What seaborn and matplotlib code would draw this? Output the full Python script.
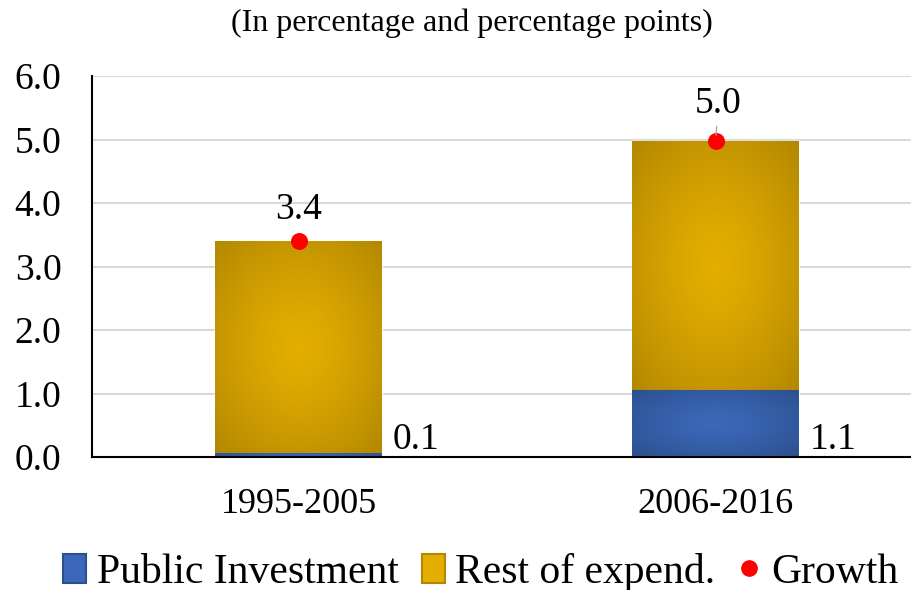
import numpy as np
import pandas as pd
import matplotlib
matplotlib.use("Agg")
import matplotlib.pyplot as plt
import seaborn as sns
from matplotlib.patches import Patch
from matplotlib.lines import Line2D
from matplotlib.colors import LinearSegmentedColormap

# ---- data ----
periods = ["1995-2005", "2006-2016"]
public_investment = [0.06, 1.06]
rest_of_expend = [3.34, 3.92]
growth = [3.40, 4.98]
title = "(In percentage and percentage points)"
yticks = [0, 1, 2, 3, 4, 5, 6]

sns.set_theme(style="white")
plt.rcParams['font.family'] = ['Liberation Serif', 'DejaVu Serif']
plt.rcParams['text.color'] = 'black'

BLUE_C, BLUE_E = "#3B68B9", "#2C508D"
GOLD_C, GOLD_E = "#E4AE00", "#B38800"

fig = plt.figure(figsize=(9.11, 5.90), dpi=100)
ax = fig.add_axes([92 / 911, 133 / 590, 819 / 911, 381 / 590])

df = pd.DataFrame({"period": periods, "pub": public_investment,
                   "rest": rest_of_expend, "growth": growth})

sns.barplot(data=df, x="period", y="pub", color=BLUE_E, width=0.4,
            saturation=1, ax=ax, zorder=3)
sns.barplot(data=df, x="period", y="rest", bottom=df["pub"].values,
            color=GOLD_E, width=0.4, saturation=1, ax=ax, zorder=3)

# radial gradient fills clipped to each bar
n_pub = len(periods)
for k, patch in enumerate(ax.patches):
    x0, y0 = patch.get_x(), patch.get_y()
    w, h = patch.get_width(), patch.get_height()
    if h <= 0:
        continue
    c, e = (BLUE_C, BLUE_E) if k < n_pub else (GOLD_C, GOLD_E)
    cmap = LinearSegmentedColormap.from_list("g", [c, e])
    gx, gy = np.meshgrid(np.linspace(-1, 1, 200), np.linspace(-1, 1, 200))
    r = (np.sqrt(gx ** 2 + gy ** 2) / np.sqrt(2)) ** 1.3
    im = ax.imshow(r, cmap=cmap, vmin=0, vmax=1, extent=[x0, x0 + w, y0, y0 + h],
                   aspect="auto", origin="lower", zorder=3.5, interpolation="bilinear")
    im.set_clip_path(patch)

# growth dots
xs = np.arange(len(periods))
ax.scatter(xs, growth, s=150, color="#FF0000", zorder=6, linewidths=0)

# growth labels
ax.annotate(f"{growth[0]:.1f}", xy=(xs[0], growth[0]), xytext=(xs[0], growth[0] + 0.49),
            ha="center", va="center", fontsize=27, color="black", zorder=7)
ax.annotate(f"{growth[1]:.1f}", xy=(xs[1], growth[1]), xytext=(xs[1] + 0.005, growth[1] + 0.59),
            ha="center", va="center", fontsize=27, color="black", zorder=7,
            arrowprops=dict(arrowstyle="-", color="#A6A6A6", lw=1, shrinkA=2, shrinkB=4))

# public investment labels
for i, v in enumerate(public_investment):
    ax.text(xs[i] + 0.2 + 0.024, 0.27, f"{v:.1f}", ha="left", va="center",
            fontsize=27, color="black", zorder=7)

ax.set_xlim(-0.496, 1.468)
ax.set_ylim(0, 6)
ax.set_yticks(yticks)
ax.set_yticklabels([f"{t:.1f}" for t in yticks])
ax.set_xlabel("")
ax.set_ylabel("")
ax.grid(axis="y", color="#D9D9D9", lw=1.5, zorder=0)
ax.set_axisbelow(True)
for s in ["top", "right"]:
    ax.spines[s].set_visible(False)
for s in ["left", "bottom"]:
    ax.spines[s].set_color("black")
    ax.spines[s].set_linewidth(1.5)
    ax.spines[s].set_zorder(8)
ax.tick_params(axis="y", length=0, pad=22, labelsize=27, colors="black")
ax.tick_params(axis="x", length=0, pad=22, labelsize=26, colors="black")

fig.text(0.518, 0.960, title, ha="center", va="center", fontsize=23, color="black")

handles = [Patch(facecolor=BLUE_C, edgecolor=BLUE_E, lw=1.5),
           Patch(facecolor=GOLD_C, edgecolor=GOLD_E, lw=1.5),
           Line2D([], [], marker="o", color="#FF0000", ls="none", markersize=11)]
labels = ["Public Investment", "Rest of expend.", "Growth"]
leg = fig.legend(handles, labels, loc="center", bbox_to_anchor=(0.528, 0.030), ncol=3,
                 frameon=False, fontsize=30, handlelength=0.55, handleheight=0.7,
                 handletextpad=0.25, columnspacing=0.55, borderaxespad=0)
for t in leg.get_texts():
    t.set_color("black")

fig.savefig("out.png", dpi=100)
